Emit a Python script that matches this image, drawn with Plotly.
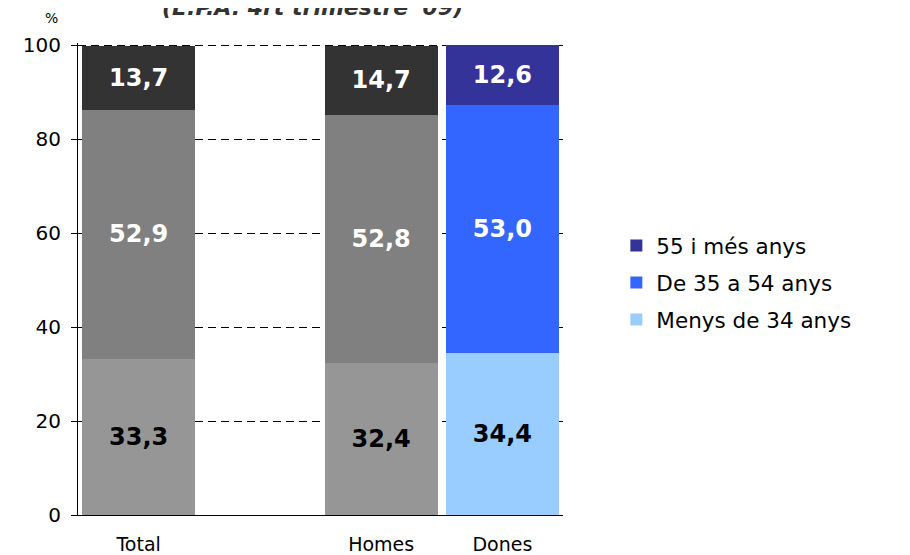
import plotly.graph_objects as go

categories = ["Total", " ", "Homes", "Dones"]
series_names = ["Menys de 34 anys", "De 35 a 54 anys", "55 i més anys"]
menys_34 = [33.3, None, 32.4, 34.4]
de_35_54 = [52.9, None, 52.8, 53.0]
mes_55 = [13.7, None, 14.7, 12.6]
series_values = [menys_34, de_35_54, mes_55]

gray_colors = ["#969696", "#808080", "#333333"]
blue_colors = ["#99CCFF", "#3366FF", "#333399"]
text_colors = ["#000000", "#FFFFFF", "#FFFFFF"]

FONT = "DejaVu Sans"

fig = go.Figure()
for i, (name, vals) in enumerate(zip(series_names, series_values)):
    rank = 3 - i
    common = dict(
        name=name, legendgroup=name, legendrank=rank,
        texttemplate="<b>%{y:.1f}</b>", textposition="inside",
        insidetextanchor="middle", textangle=0, constraintext="none",
        insidetextfont=dict(family=FONT, size=24, color=text_colors[i]),
        hoverinfo="skip",
    )
    # Total / Homes in gray (no legend)
    fig.add_trace(go.Bar(
        x=categories[:3], y=vals[:3], showlegend=False,
        marker=dict(color=gray_colors[i], line=dict(width=0)),
        **common,
    ))
    # Dones in blue (with legend)
    fig.add_trace(go.Bar(
        x=categories[3:], y=vals[3:], showlegend=True,
        marker=dict(color=blue_colors[i], line=dict(width=0)),
        **common,
    ))

fig.update_layout(
    width=910, height=555,
    barmode="stack", bargap=0.07,
    separators=",.",
    plot_bgcolor="white", paper_bgcolor="white",
    margin=dict(l=70, r=355, t=35, b=48, autoexpand=False),
    font=dict(family=FONT, size=16, color="#000000"),
    legend=dict(
        x=1.11, y=0.4925, xanchor="left", yanchor="middle",
        traceorder="grouped", tracegroupgap=6,
        font=dict(family=FONT, size=21.5, color="#000000"),
        bgcolor="rgba(0,0,0,0)",
    ),
    xaxis=dict(
        type="category", categoryorder="array", categoryarray=categories,
        showline=True, linecolor="#000000", linewidth=1,
        ticks="", showgrid=False, ticklabelstandoff=12, automargin=False,
        tickfont=dict(family=FONT, size=19, color="#000000"),
    ),
    yaxis=dict(
        range=[0, 100.5], tickvals=[0, 20, 40, 60, 80, 100],
        showline=True, linecolor="#000000", linewidth=1,
        ticks="outside", ticklen=6, tickcolor="#000000",
        showgrid=True, gridcolor="#000000", griddash="8px,5px", gridwidth=1,
        zeroline=False, ticklabelstandoff=6, automargin=False,
        tickfont=dict(family=FONT, size=20, color="#000000"),
    ),
    annotations=[
        dict(text="%", xref="paper", yref="paper", x=-0.054, y=1.054,
             xanchor="center", yanchor="middle",
             showarrow=False, font=dict(family=FONT, size=14, color="#000000")),
        dict(text="<b><i>(E.P.A. 4rt trimestre '09)</i></b>", xref="paper", yref="paper",
             x=0.4845, y=1.076, xanchor="center", yanchor="middle", showarrow=False,
             font=dict(family=FONT, size=22, color="#333333")),
    ],
)

fig.write_html("out.html")
